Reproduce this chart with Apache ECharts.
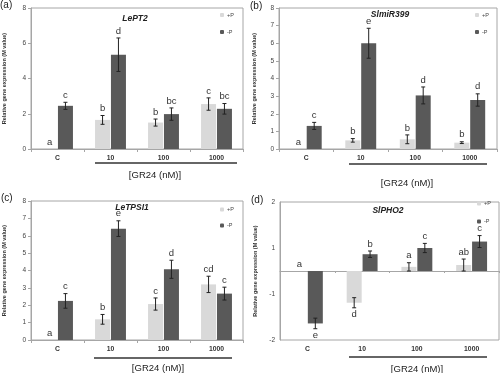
<!DOCTYPE html>
<html><head><meta charset="utf-8">
<script src="https://cdn.jsdelivr.net/npm/echarts@6/dist/echarts.min.js"></script>
<style>html,body{margin:0;padding:0;background:#fff}#c{width:500px;height:373px}</style>
</head><body><div id="c"></div>
<script>
var categories = ['C', '10', '100', '1000'];
var seriesNames = ['+P', '-P'];

// (a) LePT2
var aPlus = [0, 1.65, 1.5, 2.55];
var aPlusErr = [0, 0.25, 0.2, 0.35];
var aPlusLet = ['a', 'b', 'b', 'c'];
var aMinus = [2.45, 5.35, 1.98, 2.28];
var aMinusErr = [0.2, 0.95, 0.35, 0.3];
var aMinusLet = ['c', 'd', 'bc', 'bc'];
// (b) SlmiR399
var bPlus = [0, 0.49, 0.55, 0.36];
var bPlusErr = [0, 0.1, 0.25, 0.05];
var bPlusLet = ['a', 'b', 'b', 'b'];
var bMinus = [1.31, 6.0, 3.04, 2.78];
var bMinusErr = [0.2, 0.85, 0.48, 0.35];
var bMinusLet = ['c', 'e', 'd', 'd'];
// (c) LeTPSI1
var cPlus = [0, 1.19, 2.07, 3.2];
var cPlusErr = [0, 0.28, 0.35, 0.47];
var cPlusLet = ['a', 'b', 'c', 'cd'];
var cMinus = [2.25, 6.41, 4.07, 2.67];
var cMinusErr = [0.42, 0.45, 0.52, 0.37];
var cMinusLet = ['c', 'e', 'd', 'c'];
// (d) SlPHO2
var dPlus = [0, -0.69, 0.09, 0.13];
var dPlusErr = [0, 0.11, 0.09, 0.13];
var dPlusLet = ['a', 'd', 'a', 'ab'];
var dMinus = [-1.14, 0.365, 0.5, 0.64];
var dMinusErr = [0.115, 0.07, 0.1, 0.13];
var dMinusLet = ['e', 'b', 'c', 'c'];

var titles = ['LePT2', 'SlmiR399', 'LeTPSI1', 'SlPHO2'];
var panelLabels = ['(a)', '(b)', '(c)', '(d)'];
var xName = '[GR24 (nM)]';
var yName = 'Relative gene expression (M value)';

var panels = [
  {plus: aPlus, plusErr: aPlusErr, plusLet: aPlusLet, minus: aMinus, minusErr: aMinusErr, minusLet: aMinusLet, min: 0, max: 8, interval: 2},
  {plus: bPlus, plusErr: bPlusErr, plusLet: bPlusLet, minus: bMinus, minusErr: bMinusErr, minusLet: bMinusLet, min: 0, max: 8, interval: 1},
  {plus: cPlus, plusErr: cPlusErr, plusLet: cPlusLet, minus: cMinus, minusErr: cMinusErr, minusLet: cMinusLet, min: 0, max: 8, interval: 1},
  {plus: dPlus, plusErr: dPlusErr, plusLet: dPlusLet, minus: dMinus, minusErr: dMinusErr, minusLet: dMinusLet, min: -1.5, max: 1.5, interval: 0.5}
];

// layout (styles)
var grids = [
  {left: 30, top: 8, width: 213, height: 141},
  {left: 279, top: 8, width: 218, height: 141},
  {left: 30, top: 201, width: 213, height: 139},
  {left: 280, top: 202, width: 219, height: 138}
];
var titlePos = [[135, 14], [390, 10], [132, 203.5], [388, 206]];
var legendPos = [[220, 12], [475, 12], [220, 206.5], [477, 200.5]];
var legendGap = [11, 11, 10, 12];
var labelPos = [[0, 0], [250, 1], [1, 193], [251, 195]];
var underline = [[95, 237, 163], [349, 487, 164], [94, 232, 358], [349, 487, 357]];
var xNamePos = [[155, 175], [407, 183], [158, 368], [417, 369]];

var BW = 15, GAP = 0.06;
var OFF = BW * (1 + GAP) / 2;
var PLUS_C = '#d9d9d9', MINUS_C = '#595959';
var AX_C = '#a6a6a6';
var FONT = 'Liberation Sans, Arial, sans-serif';

function errSeries(name, vals, errs, lets, gi, sign, xi) {
  var data = vals.map(function (v, i) { return [i, v, errs[i]]; });
  return {
    type: 'custom', name: name + ' err', xAxisIndex: xi, yAxisIndex: gi, z: 5,
    data: data,
    renderItem: function (params, api) {
      var ci = api.value(0), v = api.value(1), e = api.value(2);
      var p = api.coord([ci, v]);
      var x = p[0] + sign * OFF;
      var yt = api.coord([ci, v + e])[1];
      var yb = api.coord([ci, v - e])[1];
      var children = [];
      if (e > 0) {
        children.push({type: 'line', shape: {x1: x, y1: yt, x2: x, y2: yb}, style: {stroke: '#222', lineWidth: 1}});
        children.push({type: 'line', shape: {x1: x - 2, y1: yt, x2: x + 2, y2: yt}, style: {stroke: '#222', lineWidth: 1}});
        children.push({type: 'line', shape: {x1: x - 2, y1: yb, x2: x + 2, y2: yb}, style: {stroke: '#222', lineWidth: 1}});
      }
      var letter = lets[params.dataIndex];
      if (v >= 0) {
        children.push({type: 'text', style: {x: x, y: yt - 2, text: letter, fill: '#333', font: '9.5px ' + FONT, textAlign: 'center', textVerticalAlign: 'bottom'}});
      } else {
        children.push({type: 'text', style: {x: x, y: yb + 2, text: letter, fill: '#333', font: '9.5px ' + FONT, textAlign: 'center', textVerticalAlign: 'top'}});
      }
      return {type: 'group', children: children};
    }
  };
}

var option = {
  animation: false,
  backgroundColor: '#fff',
  title: titles.map(function (t, i) {
    return {text: t, left: titlePos[i][0], top: titlePos[i][1], textAlign: 'center', padding: 0,
      textStyle: {fontSize: 8.5, fontStyle: 'italic', fontWeight: 'bold', color: '#222', fontFamily: FONT}};
  }),
  legend: grids.map(function (g, i) {
    return {data: seriesNames, orient: 'vertical', left: legendPos[i][0], top: legendPos[i][1],
      itemWidth: 4, itemHeight: 4, itemGap: legendGap[i], padding: 0,
      textStyle: {fontSize: 5.5, color: '#444', fontFamily: FONT, padding: [0, 0, 0, -2]}};
  }),
  grid: grids.map(function (g) {
    return {left: g.left, top: g.top, width: g.width, height: g.height, show: true,
      borderColor: AX_C, borderWidth: 1, backgroundColor: 'transparent', containLabel: false};
  }),
  xAxis: [],
  yAxis: [],
  series: [],
  graphic: []
};

panels.forEach(function (p, i) {
  var xi = option.xAxis.length;
  option.xAxis.push({
    type: 'category', gridIndex: i, data: categories, position: 'bottom',
    axisLine: {show: i !== 3, onZero: false, lineStyle: {color: AX_C}},
    axisTick: {show: i !== 3, length: 3, lineStyle: {color: AX_C}},
    axisLabel: {fontSize: 6.8, fontWeight: 'bold', color: '#333', margin: 6, fontFamily: FONT}
  });
  if (i === 3) {
    option.xAxis.push({
      type: 'category', gridIndex: i, data: categories, position: 'top',
      axisLine: {show: true, onZero: true, lineStyle: {color: AX_C}},
      axisTick: {show: true, inside: true, length: 2, lineStyle: {color: AX_C}},
      axisLabel: {show: false}
    });
  }
  option.yAxis.push({
    type: 'value', gridIndex: i, min: p.min, max: p.max, interval: p.interval,
    name: yName, nameLocation: 'middle', nameRotate: 90, nameGap: i % 2 === 0 ? 24 : 22,
    nameTextStyle: {fontSize: 5.5, fontWeight: 'bold', color: '#333', fontFamily: FONT},
    splitLine: {show: false},
    axisLine: {show: true, lineStyle: {color: AX_C}},
    axisTick: {show: i !== 3, length: 3, lineStyle: {color: AX_C}},
    axisLabel: {fontSize: 6.5, color: '#444', margin: 5, fontFamily: FONT,
      formatter: i === 3 ? function (v) {
        var r = Math.round(Math.abs(v) * 2);
        if (r % 2 === 1) { return (v < 0 ? '-' : '') + Math.round(Math.abs(v) + 0.001); }
        return '';
      } : null}
  });
  option.series.push({type: 'bar', name: '+P', xAxisIndex: xi, yAxisIndex: i, data: p.plus,
    barWidth: BW, barGap: (GAP * 100) + '%', itemStyle: {color: PLUS_C}});
  option.series.push({type: 'bar', name: '-P', xAxisIndex: xi, yAxisIndex: i, data: p.minus,
    barWidth: BW, barGap: (GAP * 100) + '%', itemStyle: {color: MINUS_C}});
  option.series.push(errSeries('+P', p.plus, p.plusErr, p.plusLet, i, -1, xi));
  option.series.push(errSeries('-P', p.minus, p.minusErr, p.minusLet, i, 1, xi));

  option.graphic.push({type: 'text', left: labelPos[i][0], top: labelPos[i][1],
    style: {text: panelLabels[i], font: '10px ' + FONT, fill: '#222'}});
  option.graphic.push({type: 'line', shape: {x1: underline[i][0], y1: underline[i][2], x2: underline[i][1], y2: underline[i][2]},
    style: {stroke: '#333', lineWidth: 1.3}});
  option.graphic.push({type: 'text', x: xNamePos[i][0], y: xNamePos[i][1],
    style: {text: xName, font: '9.5px ' + FONT, fill: '#222', textAlign: 'center', textVerticalAlign: 'middle'}});
});

var chart = echarts.init(document.getElementById('c'), null, {renderer: 'canvas'});
chart.setOption(option);
</script></body></html>
